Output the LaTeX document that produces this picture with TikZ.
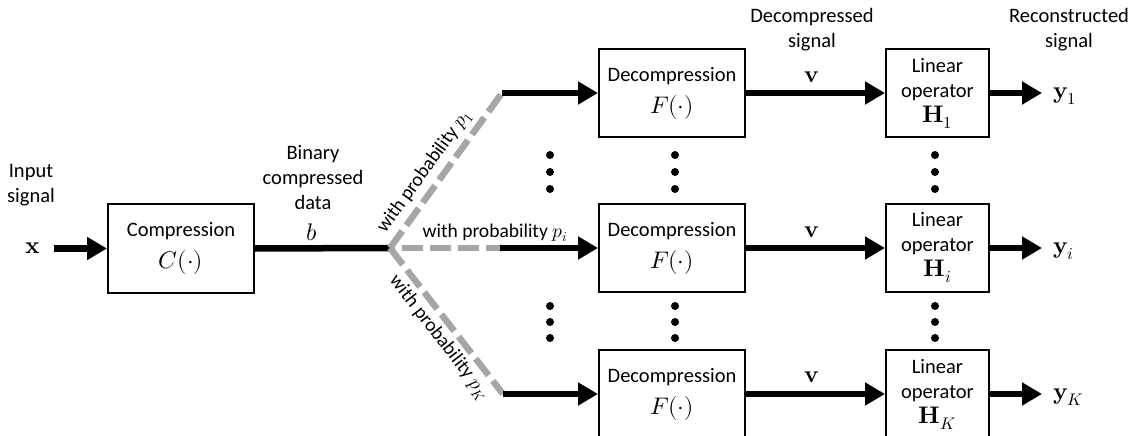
\documentclass[tikz,border=0pt]{standalone}
\usepackage{amsmath}
\usepackage{unicode-math}
\setmainfont{Carlito}
\setmathfont{Latin Modern Math}
\usetikzlibrary{arrows.meta}
\definecolor{dgray}{RGB}{166,166,166}
\newcommand{\txtf}{\fontsize{20.5}{25}\selectfont}
\newcommand{\mthf}{\fontsize{24}{25}\selectfont}
\begin{document}
\begin{tikzpicture}[x=1pt,y=-1pt,
  box/.style={draw, line width=2pt, align=center, font=\txtf, inner sep=0pt},
  dbox/.style={box, minimum width=146pt, minimum height=88pt},
  hbox/.style={box, minimum width=103pt, minimum height=88pt},
  arr/.style={line width=6.5pt, -{Triangle[length=20pt,width=22pt]}},
  plain/.style={line width=6.5pt},
  gdash/.style={line width=6.5pt, draw=dgray, dash pattern=on 21pt off 7pt},
  lbl/.style={font=\txtf, align=center, inner sep=0pt},
  plab/.style={font=\fontsize{19.5}{22}\selectfont, inner sep=0pt},
  mlab/.style={font=\mthf, inner sep=0pt},
  dotn/.style={circle, fill=black, inner sep=0pt, minimum size=8pt}]
\useasboundingbox (0,0) rectangle (1133,436);

% labels
\node[lbl] (inl) at (31,185) {Input\\signal};
\node[lbl] (bcd) at (313,178) {Binary\\compressed\\data};
\node[lbl] (dsl) at (812,30) {Decompressed\\signal};
\node[lbl] (rsl) at (1069,30) {Reconstructed\\signal};

% boxes
\node[box, minimum width=146pt, minimum height=89pt] (comp) at (181,248.5) {Compression\\[7pt]{\mthf $C(\cdot)$}};
\node[dbox] (d1) at (672,93) {Decompression\\[7pt]{\mthf $F(\cdot)$}};
\node[dbox] (di) at (672,248) {Decompression\\[7pt]{\mthf $F(\cdot)$}};
\node[dbox] (dK) at (672,394) {Decompression\\[7pt]{\mthf $F(\cdot)$}};
\node[hbox] (h1) at (937.5,93) {Linear\\operator\\{\mthf $\symbf{H}_1$}};
\node[hbox] (hi) at (937.5,248) {Linear\\operator\\{\mthf $\symbf{H}_i$}};
\node[hbox] (hK) at (937.5,394) {Linear\\operator\\{\mthf $\symbf{H}_K$}};

% input
\node[mlab] (x) at (33,248) {$\symbf{x}$};
\draw[arr, shorten <=13pt] (x.east |- comp.west) -- (comp.west);

% b line
\coordinate (J) at (390,248);
\coordinate (u1) at (502,93);
\coordinate (ui) at (500,248);
\coordinate (uK) at (503,394);
\node[mlab, anchor=base] (b) at (312,240) {$b$};
\draw[plain] (comp.east) -- (J);

% dashed branches
\draw[gdash, dash phase=16pt] (J) -- (ui);
\draw[gdash] (J) -- node[plab, sloped, pos=0.43, above=4pt] (pl1) {with probability $p_1$} (u1);
\draw[gdash] (J) -- node[plab, sloped, pos=0.55, below=4pt] (plK) {with probability $p_K$} (uK);
\node[plab, anchor=base] (pli) at (495,237) {with probability $p_i$};

\draw[arr] (u1) -- (d1.west);
\draw[arr] (ui) -- (di.west);
\draw[arr] (uK) -- (dK.west);

% v arrows
\draw[arr] (d1.east) -- (h1.west);
\draw[arr] (di.east) -- (hi.west);
\draw[arr] (dK.east) -- (hK.west);
\node[mlab] (v1) at (812,77) {$\symbf{v}$};
\node[mlab] (vi) at (812,232) {$\symbf{v}$};
\node[mlab] (vK) at (812,377) {$\symbf{v}$};

% outputs
\node[mlab, anchor=west] (y1) at (1053,96) {$\symbf{y}_1$};
\node[mlab, anchor=west] (yi) at (1053,251) {$\symbf{y}_i$};
\node[mlab, anchor=west] (yK) at (1053,397) {$\symbf{y}_K$};
\draw[arr, shorten >=11pt] (h1.east) -- (y1.west |- h1.east);
\draw[arr, shorten >=11pt] (hi.east) -- (yi.west |- hi.east);
\draw[arr, shorten >=11pt] (hK.east) -- (yK.west |- hK.east);

% dots
\foreach \xx in {550,675,935} {
  \foreach \yy in {155,172,189,306,322,338} {
    \node[dotn] (dot-\xx-\yy) at (\xx,\yy) {};
  }
}
\end{tikzpicture}
\end{document}
